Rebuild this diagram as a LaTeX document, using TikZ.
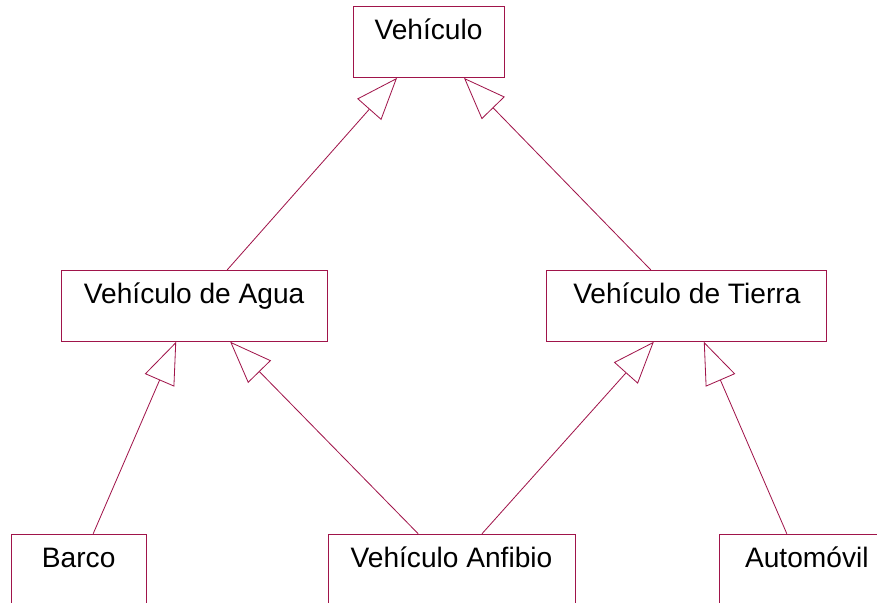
\documentclass[tikz,border=0pt]{standalone}
\usepackage{fontspec}
\setmainfont{Liberation Sans}
\usepackage{tikz}
\usetikzlibrary{arrows.meta,positioning}
\definecolor{umlline}{HTML}{A0144A}

\begin{document}
\begin{tikzpicture}[
  clase/.style={draw=umlline, line width=0.7pt, fill=white, inner sep=0pt, text height=1cm, text depth=1.13cm, font=\fontsize{24}{28}\selectfont},
  herencia/.style={-{Triangle[open, length=1.26cm, width=0.96cm, fill=white]}, line width=0.7pt, umlline}
]
  \useasboundingbox (0,0) rectangle (26.31,-18.06);
  \node[clase, minimum width=4.53cm] (vehiculo) at (12.855,-1.26) {Vehículo};
  \node[clase, minimum width=7.98cm, below left=5.76cm and 0.75cm of vehiculo.south west, anchor=north east] (agua) {Vehículo de Agua};
  \node[clase, minimum width=8.4cm, below right=5.76cm and 1.26cm of vehiculo.south east, anchor=north west] (tierra) {Vehículo de Tierra};
  \node[clase, minimum width=7.41cm, below right=5.76cm and 0cm of agua.south east, anchor=north west] (anfibio) {Vehículo Anfibio};
  \node[clase, minimum width=4.05cm, left=5.43cm of anfibio] (barco) {Barco};
  \node[clase, minimum width=5.22cm, right=4.32cm of anfibio] (automovil) {Automóvil};

  \draw[herencia] ([xshift=0.99cm]agua.north) -- ([xshift=-0.945cm]vehiculo.south);
  \draw[herencia] ([xshift=-1.08cm]tierra.north) -- ([xshift=1.065cm]vehiculo.south);
  \draw[herencia] ([xshift=0.435cm]barco.north) -- ([xshift=-0.54cm]agua.south);
  \draw[herencia] ([xshift=-1cm]anfibio.north) -- ([xshift=1.08cm]agua.south);
  \draw[herencia] ([xshift=0.915cm]anfibio.north) -- ([xshift=-0.99cm]tierra.south);
  \draw[herencia] ([xshift=-0.6cm]automovil.north) -- ([xshift=0.51cm]tierra.south);
\end{tikzpicture}
\end{document}
